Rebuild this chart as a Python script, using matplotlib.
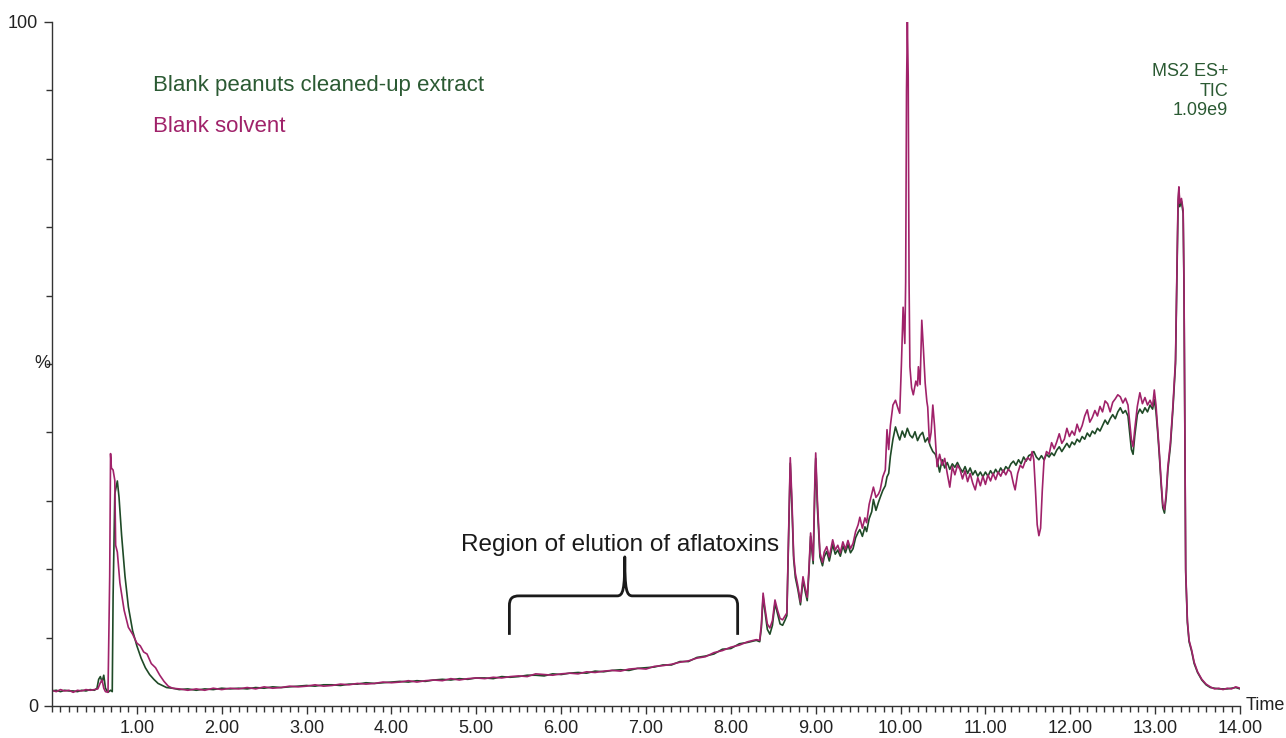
import numpy as np
import matplotlib
matplotlib.use("Agg")
import matplotlib.pyplot as plt
from matplotlib.path import Path
from matplotlib.patches import PathPatch
from matplotlib.ticker import MultipleLocator

plt.rcParams['font.family'] = ['Liberation Sans', 'DejaVu Sans']

# (time in min, % of 1.09e9 TIC)
solvent_trace = [
    (0.00, 2.3), (0.05, 2.1), (0.10, 2.4), (0.15, 2.2), (0.20, 2.3), (0.25, 2.0), (0.30, 2.3), (0.35, 2.2),
    (0.40, 2.4), (0.45, 2.3), (0.50, 2.4), (0.54, 2.5), (0.57, 3.4), (0.59, 3.8), (0.61, 2.6), (0.63, 2.1),
    (0.66, 2.0), (0.68, 19.0), (0.69, 36.9), (0.70, 34.8), (0.72, 34.5), (0.74, 33.0), (0.75, 23.5),
    (0.77, 22.5), (0.80, 18.0), (0.85, 14.0), (0.90, 11.5), (0.95, 10.5), (1.00, 9.2), (1.04, 8.8),
    (1.08, 7.9), (1.12, 7.6), (1.17, 6.2), (1.22, 5.6), (1.27, 4.5), (1.32, 3.6), (1.37, 2.9), (1.42, 2.6),
    (1.5, 2.5), (1.6, 2.3), (1.7, 2.5), (1.8, 2.3), (1.9, 2.6), (2.0, 2.4), (2.1, 2.6), (2.2, 2.5),
    (2.3, 2.7), (2.4, 2.5), (2.5, 2.8), (2.6, 2.6), (2.7, 2.7), (2.8, 2.9), (2.9, 2.8), (3.0, 2.9),
    (3.1, 3.1), (3.2, 2.9), (3.3, 3.0), (3.4, 3.2), (3.5, 3.1), (3.6, 3.3), (3.7, 3.2), (3.8, 3.3),
    (3.9, 3.5), (4.0, 3.4), (4.1, 3.5), (4.2, 3.7), (4.3, 3.5), (4.4, 3.7), (4.5, 3.8), (4.6, 3.7),
    (4.7, 4.0), (4.8, 3.8), (4.9, 4.0), (5.0, 4.1), (5.1, 4.0), (5.2, 4.2), (5.3, 4.1), (5.4, 4.3),
    (5.5, 4.4), (5.6, 4.3), (5.7, 4.7), (5.8, 4.6), (5.9, 4.5), (6.0, 4.7), (6.1, 4.8), (6.2, 4.7),
    (6.3, 5.0), (6.4, 4.9), (6.5, 5.1), (6.6, 5.2), (6.7, 5.1), (6.8, 5.4), (6.9, 5.5), (7.0, 5.4),
    (7.1, 5.8), (7.2, 5.9), (7.3, 6.1), (7.4, 6.4), (7.5, 6.6), (7.6, 7.0), (7.7, 7.2), (7.8, 7.8),
    (7.9, 8.1), (8.0, 8.6), (8.1, 8.9), (8.2, 9.4), (8.3, 9.7),
    (8.34, 9.6), (8.36, 12.0), (8.38, 16.5), (8.40, 14.5), (8.43, 12.0), (8.46, 11.4), (8.49, 12.5),
    (8.52, 15.5), (8.55, 14.0), (8.58, 12.8), (8.61, 12.6), (8.64, 13.2), (8.66, 13.6), (8.68, 25.0),
    (8.70, 36.3), (8.72, 30.0), (8.74, 22.0), (8.76, 19.4), (8.79, 17.5), (8.82, 15.2), (8.85, 18.9),
    (8.88, 17.0), (8.90, 15.9), (8.92, 20.0), (8.94, 25.3), (8.97, 21.3), (8.99, 33.0), (9.00, 37.0),
    (9.02, 30.0), (9.05, 22.4), (9.08, 21.0), (9.10, 22.5), (9.13, 23.3), (9.16, 21.8), (9.20, 24.3),
    (9.23, 22.8), (9.26, 23.5), (9.29, 22.4), (9.32, 24.0), (9.35, 22.9), (9.38, 24.2), (9.41, 23.0),
    (9.44, 23.8), (9.47, 25.5), (9.50, 26.5), (9.52, 27.6), (9.55, 26.0), (9.58, 27.5), (9.60, 26.8),
    (9.63, 29.5), (9.66, 31.0), (9.68, 32.0), (9.71, 30.5), (9.74, 31.0), (9.76, 31.6), (9.79, 33.5),
    (9.82, 34.5), (9.84, 40.4), (9.86, 37.5), (9.88, 41.0), (9.91, 44.0), (9.94, 44.7), (9.97, 43.5),
    (9.99, 42.8), (10.01, 50.0), (10.03, 58.3), (10.05, 53.0), (10.06, 62.0), (10.07, 90.0),
    (10.08, 100.0), (10.09, 92.0), (10.10, 62.0), (10.11, 49.6), (10.13, 46.5), (10.15, 45.5),
    (10.18, 47.5), (10.20, 46.8), (10.21, 49.6), (10.23, 47.0), (10.25, 56.4), (10.27, 52.0),
    (10.29, 47.2), (10.31, 44.5), (10.32, 43.7), (10.34, 38.5), (10.36, 40.0), (10.38, 44.0),
    (10.40, 41.0), (10.43, 35.0), (10.46, 36.8), (10.49, 35.2), (10.52, 36.2), (10.55, 34.0),
    (10.58, 32.0), (10.61, 35.0), (10.64, 33.8), (10.67, 35.2), (10.70, 34.6), (10.73, 33.2),
    (10.76, 34.4), (10.79, 32.8), (10.82, 34.0), (10.85, 32.6), (10.88, 31.6), (10.91, 33.4),
    (10.94, 32.2), (10.97, 33.6), (11.00, 32.4), (11.03, 33.8), (11.06, 32.9), (11.09, 34.0),
    (11.12, 33.1), (11.15, 34.2), (11.18, 33.6), (11.21, 34.5), (11.24, 33.8), (11.27, 34.6),
    (11.30, 34.2), (11.33, 32.5), (11.35, 31.6), (11.38, 34.0), (11.41, 35.2), (11.44, 34.8),
    (11.47, 35.8), (11.50, 36.3), (11.53, 35.9), (11.55, 37.2), (11.57, 36.0), (11.59, 31.5),
    (11.61, 26.5), (11.63, 24.9), (11.65, 26.0), (11.67, 31.5), (11.69, 35.8), (11.72, 37.2),
    (11.75, 36.8), (11.78, 38.5), (11.81, 37.6), (11.84, 38.6), (11.87, 39.8), (11.90, 38.4),
    (11.93, 39.0), (11.96, 40.6), (11.99, 39.4), (12.02, 40.2), (12.05, 39.6), (12.08, 41.2),
    (12.11, 40.1), (12.14, 41.0), (12.17, 42.4), (12.20, 43.3), (12.23, 41.5), (12.26, 42.2),
    (12.29, 43.2), (12.32, 42.4), (12.35, 43.8), (12.38, 43.0), (12.41, 44.6), (12.44, 44.2),
    (12.47, 43.0), (12.50, 44.4), (12.53, 44.9), (12.56, 45.5), (12.59, 45.2), (12.62, 44.3),
    (12.65, 45.0), (12.68, 44.0), (12.70, 41.5), (12.72, 39.0), (12.74, 37.9), (12.76, 40.5),
    (12.79, 43.8), (12.82, 45.8), (12.85, 44.2), (12.88, 45.1), (12.91, 44.0), (12.94, 44.7),
    (12.97, 43.8), (12.99, 46.2), (13.01, 44.0), (13.03, 40.5), (13.05, 37.0), (13.07, 33.0),
    (13.09, 29.5), (13.11, 28.7), (13.13, 31.0), (13.15, 35.0), (13.18, 38.5), (13.21, 44.0),
    (13.24, 50.6), (13.26, 66.0), (13.27, 74.0), (13.28, 75.9), (13.29, 73.5), (13.31, 74.2),
    (13.33, 72.5), (13.34, 62.0), (13.35, 40.0), (13.36, 20.0), (13.38, 12.5), (13.40, 9.6),
    (13.43, 8.2), (13.46, 6.4), (13.50, 5.0), (13.55, 3.9), (13.60, 3.2), (13.65, 2.8), (13.70, 2.5),
    (13.75, 2.6), (13.80, 2.4), (13.85, 2.6), (13.90, 2.5), (13.95, 2.8), (14.00, 2.6),
]

extract_trace = [
    (0.00, 2.2), (0.05, 2.3), (0.10, 2.1), (0.15, 2.3), (0.20, 2.2), (0.25, 2.2), (0.30, 2.1), (0.35, 2.3),
    (0.40, 2.2), (0.45, 2.4), (0.50, 2.3), (0.53, 2.6), (0.55, 3.9), (0.57, 4.3), (0.59, 3.5), (0.61, 4.5),
    (0.63, 2.6), (0.66, 2.0), (0.69, 2.3), (0.71, 2.1), (0.72, 16.0), (0.74, 31.0), (0.77, 32.9),
    (0.79, 30.5), (0.82, 25.0), (0.86, 19.0), (0.90, 14.5), (0.95, 11.0), (1.00, 8.8), (1.05, 7.0),
    (1.10, 5.6), (1.15, 4.6), (1.20, 3.9), (1.25, 3.3), (1.30, 3.0), (1.35, 2.7), (1.42, 2.6),
    (1.5, 2.4), (1.6, 2.5), (1.7, 2.3), (1.8, 2.5), (1.9, 2.4), (2.0, 2.6), (2.1, 2.5), (2.2, 2.6),
    (2.3, 2.5), (2.4, 2.7), (2.5, 2.6), (2.6, 2.8), (2.7, 2.7), (2.8, 2.8), (2.9, 2.9), (3.0, 3.0),
    (3.1, 2.9), (3.2, 3.1), (3.3, 3.1), (3.4, 3.0), (3.5, 3.2), (3.6, 3.2), (3.7, 3.4), (3.8, 3.3),
    (3.9, 3.4), (4.0, 3.5), (4.1, 3.6), (4.2, 3.5), (4.3, 3.7), (4.4, 3.6), (4.5, 3.8), (4.6, 3.9),
    (4.7, 3.8), (4.8, 4.0), (4.9, 3.9), (5.0, 4.1), (5.1, 4.1), (5.2, 4.0), (5.3, 4.3), (5.4, 4.2),
    (5.5, 4.3), (5.6, 4.5), (5.7, 4.5), (5.8, 4.4), (5.9, 4.7), (6.0, 4.6), (6.1, 4.8), (6.2, 4.9),
    (6.3, 4.8), (6.4, 5.1), (6.5, 5.0), (6.6, 5.2), (6.7, 5.3), (6.8, 5.2), (6.9, 5.5), (7.0, 5.6),
    (7.1, 5.7), (7.2, 6.0), (7.3, 6.0), (7.4, 6.5), (7.5, 6.5), (7.6, 7.1), (7.7, 7.3), (7.8, 7.6),
    (7.9, 8.3), (8.0, 8.4), (8.1, 9.1), (8.2, 9.3), (8.3, 9.6),
    (8.34, 9.4), (8.36, 11.5), (8.38, 16.0), (8.40, 14.0), (8.43, 11.2), (8.46, 10.5), (8.49, 11.8),
    (8.52, 15.0), (8.55, 13.5), (8.58, 12.0), (8.61, 11.8), (8.64, 12.6), (8.66, 13.2), (8.68, 24.0),
    (8.70, 35.5), (8.72, 29.0), (8.74, 21.5), (8.76, 18.8), (8.79, 17.0), (8.82, 14.8), (8.85, 18.4),
    (8.88, 16.5), (8.90, 15.4), (8.92, 19.5), (8.94, 24.8), (8.97, 20.8), (8.99, 32.0), (9.00, 36.2),
    (9.02, 29.0), (9.05, 21.8), (9.08, 20.5), (9.10, 21.8), (9.13, 22.6), (9.16, 21.2), (9.20, 23.6),
    (9.23, 22.2), (9.26, 22.8), (9.29, 21.9), (9.32, 23.4), (9.35, 22.4), (9.38, 23.6), (9.41, 22.4),
    (9.44, 23.0), (9.47, 24.6), (9.50, 25.4), (9.52, 25.8), (9.55, 24.8), (9.58, 26.2), (9.60, 25.5),
    (9.63, 27.4), (9.66, 28.4), (9.68, 30.2), (9.71, 28.6), (9.74, 29.8), (9.76, 30.5), (9.79, 31.5),
    (9.82, 32.2), (9.84, 33.5), (9.86, 34.0), (9.88, 36.5), (9.91, 39.0), (9.94, 40.8), (9.97, 39.6),
    (9.99, 38.9), (10.02, 40.2), (10.05, 39.3), (10.08, 40.6), (10.11, 39.6), (10.14, 39.2),
    (10.17, 40.1), (10.20, 38.8), (10.23, 39.6), (10.26, 40.0), (10.29, 38.6), (10.32, 39.2),
    (10.35, 38.0), (10.38, 37.2), (10.41, 36.8), (10.43, 36.0), (10.46, 34.2), (10.49, 36.0),
    (10.52, 34.8), (10.55, 35.6), (10.58, 34.6), (10.61, 35.4), (10.64, 34.9), (10.67, 35.6),
    (10.70, 34.8), (10.73, 34.2), (10.76, 35.0), (10.79, 34.0), (10.82, 34.8), (10.85, 33.8),
    (10.88, 34.4), (10.91, 33.6), (10.94, 34.2), (10.97, 33.5), (11.00, 34.2), (11.03, 33.6),
    (11.06, 34.4), (11.09, 33.8), (11.12, 34.6), (11.15, 34.0), (11.18, 34.8), (11.21, 34.2),
    (11.24, 35.0), (11.27, 34.6), (11.30, 35.4), (11.33, 35.8), (11.36, 35.2), (11.39, 36.0),
    (11.42, 35.4), (11.45, 36.4), (11.48, 35.8), (11.51, 36.6), (11.54, 36.8), (11.57, 37.2),
    (11.60, 36.4), (11.63, 36.0), (11.66, 36.6), (11.69, 36.0), (11.72, 36.8), (11.75, 36.4),
    (11.78, 37.0), (11.81, 36.6), (11.84, 37.4), (11.87, 37.9), (11.90, 37.2), (11.93, 37.8),
    (11.96, 38.4), (11.99, 37.8), (12.02, 38.6), (12.05, 38.2), (12.08, 39.0), (12.11, 38.6),
    (12.14, 39.4), (12.17, 39.0), (12.20, 39.9), (12.23, 39.4), (12.26, 40.2), (12.29, 39.8),
    (12.32, 40.6), (12.35, 40.2), (12.38, 41.0), (12.41, 41.8), (12.44, 41.2), (12.47, 42.0),
    (12.50, 42.6), (12.53, 42.0), (12.56, 43.0), (12.59, 43.6), (12.62, 42.8), (12.65, 43.2),
    (12.68, 42.4), (12.70, 40.0), (12.72, 37.5), (12.74, 36.8), (12.76, 39.5), (12.79, 42.6),
    (12.82, 43.4), (12.85, 42.8), (12.88, 43.6), (12.91, 43.0), (12.94, 44.0), (12.97, 43.4),
    (12.99, 44.8), (13.01, 43.0), (13.03, 40.0), (13.05, 36.5), (13.07, 32.5), (13.09, 29.0),
    (13.11, 28.2), (13.13, 30.5), (13.15, 34.5), (13.18, 38.0), (13.21, 43.5), (13.24, 50.0),
    (13.26, 65.0), (13.27, 73.0), (13.28, 75.5), (13.29, 73.0), (13.31, 73.8), (13.33, 72.0),
    (13.34, 61.0), (13.35, 39.0), (13.36, 19.5), (13.38, 12.2), (13.40, 9.4), (13.43, 8.0),
    (13.46, 6.2), (13.50, 4.9), (13.55, 3.8), (13.60, 3.1), (13.65, 2.7), (13.70, 2.6), (13.75, 2.5),
    (13.80, 2.5), (13.85, 2.5), (13.90, 2.6), (13.95, 2.7), (14.00, 2.5),
]

x_major = list(range(1, 15))
x_labels = [f"{v}.00" for v in x_major]

green = '#1f4a27'
magenta = '#a0226a'

fig = plt.figure(figsize=(12.86, 7.38), dpi=100)
W, H = 1286, 738
ax = fig.add_axes([52 / W, 32 / H, 1188 / W, 684 / H])

t_e, p_e = np.array(extract_trace).T
t_s, p_s = np.array(solvent_trace).T
ax.plot(t_e, p_e, color=green, lw=1.2)
ax.plot(t_s, p_s, color=magenta, lw=1.2)

ax.set_xlim(0, 14.0)
ax.set_ylim(0, 100)
for s in ['top', 'right']:
    ax.spines[s].set_visible(False)
for s in ['left', 'bottom']:
    ax.spines[s].set_color('#333333')
    ax.spines[s].set_linewidth(1.0)

ax.set_xticks(x_major)
ax.set_xticklabels(x_labels)
ax.xaxis.set_minor_locator(MultipleLocator(0.1))
ax.set_yticks([0, 100])
ax.set_yticklabels(['0', '100'])
ax.yaxis.set_minor_locator(MultipleLocator(10))
ax.tick_params(which='major', direction='out', length=6, width=1, color='#333333',
               labelsize=13, labelcolor='#222222', pad=4)
ax.tick_params(which='minor', direction='out', length=4, width=1, color='#333333')

# labels, written in figure pixels
fig.text(42 / W, 1 - 364 / H, '%', fontsize=13, color='#222222', ha='center', va='center')
fig.text(1246 / W, 1 - 706 / H, 'Time', fontsize=13, color='#222222', ha='left', va='center')
fig.text(153 / W, 1 - 86 / H, 'Blank peanuts cleaned-up extract', fontsize=16, color='#2b5a33',
         ha='left', va='center')
fig.text(153 / W, 1 - 127 / H, 'Blank solvent', fontsize=16, color=magenta, ha='left', va='center')
fig.text(1228 / W, 1 - 91 / H, 'MS2 ES+\nTIC\n1.09e9', fontsize=13, color='#2b5a33', ha='right',
         va='center', linespacing=1.22, multialignment='right')
fig.text(620 / W, 1 - 545 / H, 'Region of elution of aflatoxins', fontsize=17.5, color='#1a1a1a',
         ha='center', va='center')

# curly brace over the aflatoxin window
brace_left, brace_mid, brace_right = 5.39, 6.75, 8.08
brace_low, brace_bar, brace_tip = 10.4, 16.1, 21.8
verts = [
    (brace_left, brace_low), (brace_left, 14.6),
    (brace_left, 15.7), (brace_left + 0.03, brace_bar), (brace_left + 0.12, brace_bar),
    (brace_mid - 0.09, brace_bar),
    (brace_mid - 0.02, brace_bar), (brace_mid, 17.0), (brace_mid, brace_tip),
    (brace_mid, 17.0), (brace_mid + 0.02, brace_bar), (brace_mid + 0.09, brace_bar),
    (brace_right - 0.12, brace_bar),
    (brace_right - 0.03, brace_bar), (brace_right, 15.7), (brace_right, 14.6),
    (brace_right, brace_low),
]
codes = [Path.MOVETO, Path.LINETO,
         Path.CURVE4, Path.CURVE4, Path.CURVE4,
         Path.LINETO,
         Path.CURVE4, Path.CURVE4, Path.CURVE4,
         Path.CURVE4, Path.CURVE4, Path.CURVE4,
         Path.LINETO,
         Path.CURVE4, Path.CURVE4, Path.CURVE4,
         Path.LINETO]
ax.add_patch(PathPatch(Path(verts, codes), fill=False, lw=2.0, edgecolor='#1a1a1a',
                       capstyle='butt', joinstyle='round'))

fig.savefig('out.png', dpi=100)
